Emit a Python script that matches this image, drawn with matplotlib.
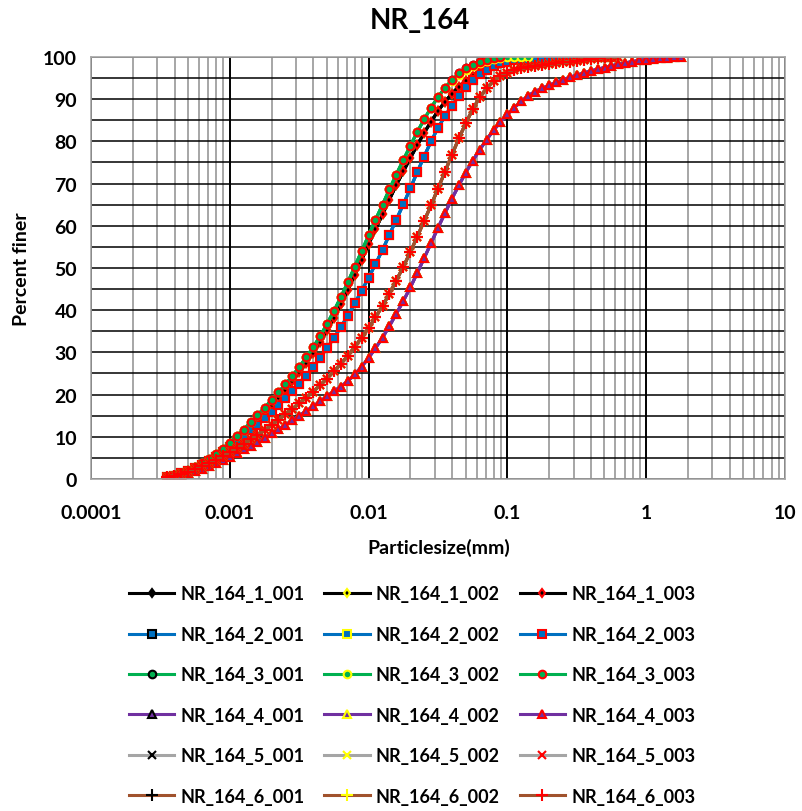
import matplotlib.pyplot as plt
from matplotlib.ticker import LogLocator, NullFormatter

plt.rcParams["font.family"] = ["Lato", "DejaVu Sans"]
plt.rcParams["font.weight"] = "bold"

# particle size classes (mm), shared by all runs
SIZE_MM = [
    0.000355, 0.000398, 0.000447, 0.000501, 0.000562, 0.000631, 0.000708, 0.000794, 0.000891, 0.001,
    0.00112, 0.00126, 0.00141, 0.00158, 0.00178, 0.00200, 0.00224, 0.00251, 0.00282, 0.00316,
    0.00355, 0.00398, 0.00447, 0.00501, 0.00562, 0.00631, 0.00708, 0.00794, 0.00891, 0.0100,
    0.0112, 0.0126, 0.0141, 0.0158, 0.0178, 0.0200, 0.0224, 0.0251, 0.0282, 0.0316,
    0.0355, 0.0398, 0.0447, 0.0501, 0.0562, 0.0631, 0.0708, 0.0794, 0.0891, 0.100,
    0.112, 0.126, 0.141, 0.158, 0.178, 0.200, 0.224, 0.251, 0.282, 0.316,
    0.355, 0.398, 0.447, 0.501, 0.562, 0.631, 0.708, 0.794, 0.891, 1.00,
    1.12, 1.26, 1.41, 1.58, 1.78,
]

# percent finer (replicates of a sample overlap)
PCT_1 = [
    0.4, 0.8, 1.2, 1.8, 2.5, 3.3, 4.2, 5.3, 6.5, 7.8,
    9.2, 10.7, 12.3, 14.0, 15.7, 17.5, 19.3, 21.2, 23.2, 25.3,
    27.5, 29.9, 32.4, 35.2, 38.2, 41.4, 44.8, 48.4, 52.0, 55.6,
    59.2, 62.7, 66.2, 69.6, 72.9, 76.1, 79.1, 82.0, 84.7, 87.2,
    89.4, 91.3, 93.0, 94.4, 95.6, 96.6, 97.4, 98.0, 98.5, 98.9,
    99.2, 99.4, 99.6, 99.7, 99.8, 99.9, 100.0, 100.0,
]
PCT_2 = [
    0.4, 0.8, 1.3, 1.9, 2.6, 3.4, 4.3, 5.3, 6.4, 7.6,
    8.8, 10.1, 11.5, 12.9, 14.4, 15.9, 17.5, 19.1, 20.8, 22.6,
    24.5, 26.5, 28.7, 31.0, 33.4, 36.0, 38.7, 41.6, 44.6, 47.7,
    50.9, 54.3, 57.8, 61.4, 65.1, 68.9, 72.7, 76.4, 80.0, 83.2,
    86.0, 88.5, 90.8, 92.8, 94.5, 95.9, 97.0, 97.9, 98.5, 98.9,
    99.2, 99.3, 99.4, 99.5, 99.5, 99.6, 99.6, 99.7, 99.7, 99.8,
    99.8, 99.9, 99.9, 100.0, 100.0,
]
PCT_3 = [
    0.5, 0.9, 1.4, 2.0, 2.8, 3.7, 4.7, 5.9, 7.2, 8.6,
    10.1, 11.7, 13.4, 15.1, 16.9, 18.7, 20.5, 22.4, 24.4, 26.5,
    28.8, 31.2, 33.8, 36.7, 39.8, 43.1, 46.6, 50.3, 54.0, 57.7,
    61.4, 65.0, 68.6, 72.1, 75.6, 79.0, 82.2, 85.2, 88.0, 90.5,
    92.7, 94.6, 96.1, 97.3, 98.2, 98.9, 99.4, 99.7, 100.0,
]
PCT_3_002 = [
    0.5, 0.9, 1.4, 2.0, 2.8, 3.7, 4.7, 5.9, 7.2, 8.6,
    10.1, 11.7, 13.4, 15.1, 16.9, 18.7, 20.5, 22.4, 24.4, 26.5,
    28.8, 31.2, 33.8, 36.7, 39.8, 43.1, 46.6, 50.3, 54.0, 57.7,
    61.4, 65.0, 68.6, 72.1, 75.6, 79.0, 82.2, 85.2, 88.0, 90.5,
    92.7, 94.3, 95.8, 97.0, 97.9, 98.6, 99.1, 99.5, 99.8, 100.0,
    100.0, 100.0, 100.0,
]
PCT_4 = [
    0.3, 0.6, 0.9, 1.3, 1.8, 2.4, 3.0, 3.7, 4.5, 5.3,
    6.1, 7.0, 7.9, 8.8, 9.8, 10.8, 11.8, 12.8, 13.9, 15.0,
    16.1, 17.2, 18.4, 19.6, 20.8, 21.9, 23.2, 24.8, 26.6, 28.7,
    31.0, 33.5, 36.2, 39.1, 42.2, 45.4, 48.8, 52.3, 55.9, 59.5,
    63.0, 66.4, 69.6, 72.6, 75.4, 78.0, 80.4, 82.6, 84.6, 86.4,
    88.0, 89.5, 90.8, 91.8, 92.6, 93.3, 94.0, 94.6, 95.2, 95.7,
    96.2, 96.7, 97.1, 97.5, 97.9, 98.3, 98.6, 98.9, 99.2, 99.4,
    99.6, 99.7, 99.8, 99.9, 100.0,
]
PCT_6 = [
    0.4, 0.8, 1.2, 1.7, 2.3, 3.0, 3.7, 4.5, 5.4, 6.3,
    7.3, 8.3, 9.4, 10.5, 11.6, 12.8, 14.0, 15.3, 16.6, 17.9,
    19.3, 20.7, 22.2, 23.8, 25.5, 27.3, 29.2, 31.3, 33.5, 35.8,
    38.3, 41.0, 43.9, 47.0, 50.3, 53.8, 57.4, 61.1, 64.9, 68.8,
    72.8, 76.8, 80.7, 84.3, 87.6, 90.4, 92.6, 94.3, 95.5, 96.3,
    96.9, 97.3, 97.6, 97.9, 98.1, 98.3, 98.5, 98.7, 98.9, 99.1,
    99.3, 99.5, 99.7, 99.9, 100.0, 100.0,
]
# the grey sample 5 runs sit completely under sample 6
PCT_5 = PCT_6

GROUPS = ["1", "2", "3", "4", "5", "6"]
REPLICATES = ["001", "002", "003"]
GROUP_PCT = [
    [PCT_1, PCT_1, PCT_1],
    [PCT_2, PCT_2, PCT_2],
    [PCT_3, PCT_3_002, PCT_3],
    [PCT_4, PCT_4, PCT_4],
    [PCT_5, PCT_5, PCT_5],
    [PCT_6, PCT_6, PCT_6],
]
LINE_COLORS = ["#000000", "#0070C0", "#00B050", "#7030A0", "#A5A5A5", "#A0522D"]
MARKERS = ["d", "s", "o", "^", "x", "+"]
MARKER_SIZES = [4.5, 6, 5.5, 6, 6, 8]
EDGE_COLORS = ["#000000", "#FFFF00", "#FF0000"]

X_TICKS = [1e-4, 1e-3, 1e-2, 0.1, 1, 10]
X_TICK_LABELS = ["0.0001", "0.001", "0.01", "0.1", "1", "10"]
Y_TICKS = list(range(0, 101, 10))
Y_MINOR = list(range(5, 100, 10))


def main() -> None:
    fig = plt.figure(figsize=(8.02, 8.12), dpi=100)
    ax = fig.add_axes([0.1135, 0.4089, 0.8653, 0.5197])

    lines = {}
    for g, group in enumerate(GROUPS):
        filled = MARKERS[g] not in ("x", "+")
        for r, rep in enumerate(REPLICATES):
            pct = GROUP_PCT[g][r]
            (line,) = ax.plot(
                SIZE_MM[: len(pct)], pct,
                color=LINE_COLORS[g], lw=2.2,
                marker=MARKERS[g], ms=MARKER_SIZES[g],
                mfc=LINE_COLORS[g] if filled else EDGE_COLORS[r],
                mec=EDGE_COLORS[r], mew=1.5,
                label=f"NR_164_{group}_{rep}",
            )
            lines[(g, r)] = line

    ax.set_xscale("log")
    ax.set_xlim(X_TICKS[0], X_TICKS[-1])
    ax.set_ylim(0, 100)
    ax.set_xticks(X_TICKS)
    ax.set_xticklabels(X_TICK_LABELS)
    ax.xaxis.set_minor_locator(LogLocator(base=10, subs=range(2, 10), numticks=20))
    ax.xaxis.set_minor_formatter(NullFormatter())
    ax.set_yticks(Y_TICKS)
    ax.set_yticks(Y_MINOR, minor=True)
    ax.set_axisbelow(True)
    ax.grid(which="major", axis="x", color="#000000", lw=1.4)
    ax.grid(which="minor", axis="x", color="#A6A6A6", lw=1.4)
    ax.grid(which="both", axis="y", color="#000000", lw=1.1)
    ax.tick_params(which="both", length=0, labelsize=14)
    ax.tick_params(axis="x", pad=18)
    ax.tick_params(axis="y", pad=10)
    for spine in ax.spines.values():
        spine.set_color("#A6A6A6")
        spine.set_linewidth(1.2)

    fig.text(0.524, 0.974, "NR_164", ha="center", va="center", fontsize=20, fontweight="bold")
    fig.text(0.547, 0.325, "Particlesize(mm)", ha="center", va="center", fontsize=14, fontweight="bold")
    fig.text(0.027, 0.668, "Percent finer", ha="center", va="center", rotation=90,
             fontsize=14, fontweight="bold")

    # legend rows are samples, columns are replicate runs
    order = [(g, r) for r in range(3) for g in range(len(GROUPS))]
    fig.legend(
        [lines[k] for k in order], [lines[k].get_label() for k in order],
        loc="upper center", bbox_to_anchor=(0.514, 0.289), ncol=3, frameon=False,
        fontsize=13, handlelength=2.5, handletextpad=0.35, columnspacing=1.1,
        labelspacing=1.3, borderpad=0, numpoints=1,
    )

    fig.savefig("out.png", dpi=100)
    plt.close(fig)


if __name__ == "__main__":
    main()
